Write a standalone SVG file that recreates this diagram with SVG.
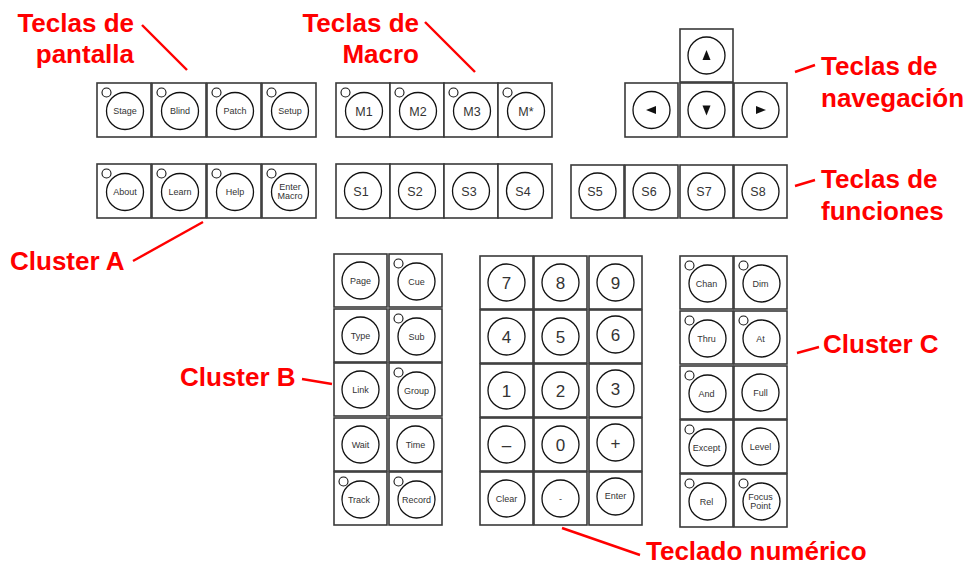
<svg xmlns="http://www.w3.org/2000/svg" width="969" height="566" viewBox="0 0 969 566">
<style>
.k rect{fill:#fff;stroke:#3a3a3a;stroke-width:1.6}
.k circle.b{fill:#fff;stroke:#111;stroke-width:1.3}
.k circle.l{fill:#fff;stroke:#111;stroke-width:1.1}
.k text{font-family:"Liberation Sans",Arial,sans-serif;font-size:9px;fill:#333;text-anchor:middle}
.k text.m{font-size:12.5px}
.k text.n{font-size:17px}
.k path{fill:#111}
.lbl{font-family:"Liberation Sans",Arial,sans-serif;font-weight:bold;font-size:26px;fill:#ff0000}
.ln{stroke:#ff0000;stroke-width:2.4;fill:none;stroke-linecap:butt}
</style>
<rect width="969" height="566" fill="#fff"/>

<!-- Screen keys -->
<g id="key-stage" class="k" transform="translate(97,83)"><rect width="54" height="54"/><circle class="b" cx="28" cy="28" r="18.5"/><circle class="l" cx="9.5" cy="9.5" r="4.5"/><text x="28" y="31">Stage</text></g>
<g id="key-blind" class="k" transform="translate(152,83)"><rect width="54" height="54"/><circle class="b" cx="28" cy="28" r="18.5"/><circle class="l" cx="9.5" cy="9.5" r="4.5"/><text x="28" y="31">Blind</text></g>
<g id="key-patch" class="k" transform="translate(207,83)"><rect width="54" height="54"/><circle class="b" cx="28" cy="28" r="18.5"/><circle class="l" cx="9.5" cy="9.5" r="4.5"/><text x="28" y="31">Patch</text></g>
<g id="key-setup" class="k" transform="translate(262,83)"><rect width="54" height="54"/><circle class="b" cx="28" cy="28" r="18.5"/><circle class="l" cx="9.5" cy="9.5" r="4.5"/><text x="28" y="31">Setup</text></g>

<!-- Cluster A -->
<g id="key-about" class="k" transform="translate(97,164)"><rect width="54" height="54"/><circle class="b" cx="28" cy="28" r="18.5"/><circle class="l" cx="9.5" cy="9.5" r="4.5"/><text x="28" y="31">About</text></g>
<g id="key-learn" class="k" transform="translate(152,164)"><rect width="54" height="54"/><circle class="b" cx="28" cy="28" r="18.5"/><circle class="l" cx="9.5" cy="9.5" r="4.5"/><text x="28" y="31">Learn</text></g>
<g id="key-help" class="k" transform="translate(207,164)"><rect width="54" height="54"/><circle class="b" cx="28" cy="28" r="18.5"/><circle class="l" cx="9.5" cy="9.5" r="4.5"/><text x="28" y="31">Help</text></g>
<g id="key-enter-macro" class="k" transform="translate(262,164)"><rect width="54" height="54"/><circle class="b" cx="28" cy="28" r="18.5"/><circle class="l" cx="9.5" cy="9.5" r="4.5"/><text x="28" y="26">Enter</text><text x="28" y="35">Macro</text></g>

<!-- Macro keys -->
<g id="key-m1" class="k" transform="translate(336,83)"><rect width="54" height="54"/><circle class="b" cx="28" cy="28" r="18.5"/><circle class="l" cx="9.5" cy="9.5" r="4.5"/><text class="m" x="28" y="32.5">M1</text></g>
<g id="key-m2" class="k" transform="translate(390,83)"><rect width="54" height="54"/><circle class="b" cx="28" cy="28" r="18.5"/><circle class="l" cx="9.5" cy="9.5" r="4.5"/><text class="m" x="28" y="32.5">M2</text></g>
<g id="key-m3" class="k" transform="translate(444,83)"><rect width="54" height="54"/><circle class="b" cx="28" cy="28" r="18.5"/><circle class="l" cx="9.5" cy="9.5" r="4.5"/><text class="m" x="28" y="32.5">M3</text></g>
<g id="key-mstar" class="k" transform="translate(498,83)"><rect width="54" height="54"/><circle class="b" cx="28" cy="28" r="18.5"/><circle class="l" cx="9.5" cy="9.5" r="4.5"/><text class="m" x="28" y="32.5">M*</text></g>

<!-- Function keys -->
<g id="key-s1" class="k" transform="translate(336,164)"><rect width="54" height="54"/><circle class="b" cx="27" cy="27" r="18.5"/><text class="m" x="25" y="31.5">S1</text></g>
<g id="key-s2" class="k" transform="translate(390,164)"><rect width="54" height="54"/><circle class="b" cx="27" cy="27" r="18.5"/><text class="m" x="25" y="31.5">S2</text></g>
<g id="key-s3" class="k" transform="translate(444,164)"><rect width="54" height="54"/><circle class="b" cx="27" cy="27" r="18.5"/><text class="m" x="25" y="31.5">S3</text></g>
<g id="key-s4" class="k" transform="translate(498,164)"><rect width="54" height="54"/><circle class="b" cx="27" cy="27" r="18.5"/><text class="m" x="25" y="31.5">S4</text></g>
<g id="key-s5" class="k" transform="translate(571,165)"><rect width="53" height="53"/><circle class="b" cx="26.5" cy="26.5" r="18.5"/><text class="m" x="24" y="31">S5</text></g>
<g id="key-s6" class="k" transform="translate(625,165)"><rect width="53" height="53"/><circle class="b" cx="26.5" cy="26.5" r="18.5"/><text class="m" x="24" y="31">S6</text></g>
<g id="key-s7" class="k" transform="translate(680,165)"><rect width="53" height="53"/><circle class="b" cx="26.5" cy="26.5" r="18.5"/><text class="m" x="24" y="31">S7</text></g>
<g id="key-s8" class="k" transform="translate(734,165)"><rect width="53" height="53"/><circle class="b" cx="26.5" cy="26.5" r="18.5"/><text class="m" x="24" y="31">S8</text></g>

<!-- Navigation keys -->
<g id="key-up" class="k" transform="translate(680,29)"><rect width="53" height="53"/><circle class="b" cx="26.5" cy="26.5" r="18.5"/><path d="M26.5 21 L30.5 31 L22.5 31 Z"/></g>
<g id="key-left" class="k" transform="translate(625,83)"><rect width="53" height="54"/><circle class="b" cx="26.5" cy="27" r="18.5"/><path d="M21 27 L31 23 L31 31 Z"/></g>
<g id="key-down" class="k" transform="translate(680,83)"><rect width="53" height="54"/><circle class="b" cx="26.5" cy="27" r="18.5"/><path d="M26.5 32.5 L30.5 22.5 L22.5 22.5 Z"/></g>
<g id="key-right" class="k" transform="translate(734,83)"><rect width="53" height="54"/><circle class="b" cx="26.5" cy="27" r="18.5"/><path d="M32 27 L22 23 L22 31 Z"/></g>

<!-- Cluster B -->
<g id="key-page" class="k" transform="translate(334,254)"><rect width="53" height="53"/><circle class="b" cx="26.5" cy="26.5" r="18.5"/><text x="26.5" y="29.5">Page</text></g>
<g id="key-cue" class="k" transform="translate(389,254)"><rect width="53" height="53"/><circle class="b" cx="27.5" cy="27.5" r="18.5"/><circle class="l" cx="9.5" cy="9.5" r="4.5"/><text x="27.5" y="30.5">Cue</text></g>
<g id="key-type" class="k" transform="translate(334,309)"><rect width="53" height="53"/><circle class="b" cx="26.5" cy="26.5" r="18.5"/><text x="26.5" y="29.5">Type</text></g>
<g id="key-sub" class="k" transform="translate(389,309)"><rect width="53" height="53"/><circle class="b" cx="27.5" cy="27.5" r="18.5"/><circle class="l" cx="9.5" cy="9.5" r="4.5"/><text x="27.5" y="30.5">Sub</text></g>
<g id="key-link" class="k" transform="translate(334,363)"><rect width="53" height="53"/><circle class="b" cx="26.5" cy="26.5" r="18.5"/><text x="26.5" y="29.5">Link</text></g>
<g id="key-group" class="k" transform="translate(389,363)"><rect width="53" height="53"/><circle class="b" cx="27.5" cy="27.5" r="18.5"/><circle class="l" cx="9.5" cy="9.5" r="4.5"/><text x="27.5" y="30.5">Group</text></g>
<g id="key-wait" class="k" transform="translate(334,418)"><rect width="53" height="53"/><circle class="b" cx="26.5" cy="26.5" r="18.5"/><text x="26.5" y="29.5">Wait</text></g>
<g id="key-time" class="k" transform="translate(389,418)"><rect width="53" height="53"/><circle class="b" cx="26.5" cy="26.5" r="18.5"/><text x="26.5" y="29.5">Time</text></g>
<g id="key-track" class="k" transform="translate(334,472)"><rect width="53" height="53"/><circle class="b" cx="26.5" cy="27.5" r="18.5"/><circle class="l" cx="9.5" cy="9.5" r="4.5"/><text x="25" y="30.5">Track</text></g>
<g id="key-record" class="k" transform="translate(389,472)"><rect width="53" height="53"/><circle class="b" cx="27.5" cy="27.5" r="18.5"/><circle class="l" cx="9.5" cy="9.5" r="4.5"/><text x="27.5" y="30.5">Record</text></g>

<!-- Numeric keypad -->
<g id="key-7" class="k" transform="translate(480,256)"><rect width="53" height="53"/><circle class="b" cx="26.5" cy="26.5" r="18.5"/><text class="n" x="26.5" y="32.5">7</text></g>
<g id="key-8" class="k" transform="translate(534,256)"><rect width="53" height="53"/><circle class="b" cx="26.5" cy="26.5" r="18.5"/><text class="n" x="26.5" y="32.5">8</text></g>
<g id="key-9" class="k" transform="translate(589,256)"><rect width="53" height="53"/><circle class="b" cx="26.5" cy="26.5" r="18.5"/><text class="n" x="26.5" y="32.5">9</text></g>
<g id="key-4" class="k" transform="translate(480,310)"><rect width="53" height="53"/><circle class="b" cx="26.5" cy="26.5" r="18.5"/><text class="n" x="26.5" y="32.5">4</text></g>
<g id="key-5" class="k" transform="translate(534,310)"><rect width="53" height="53"/><circle class="b" cx="26.5" cy="26.5" r="18.5"/><text class="n" x="26.5" y="32.5">5</text></g>
<g id="key-6" class="k" transform="translate(589,310)"><rect width="53" height="53"/><circle class="b" cx="26.5" cy="24.5" r="18.5"/><text class="n" x="26.5" y="30.5">6</text></g>
<g id="key-1" class="k" transform="translate(480,364)"><rect width="53" height="53"/><circle class="b" cx="26.5" cy="26.5" r="18.5"/><text class="n" x="26.5" y="32.5">1</text></g>
<g id="key-2" class="k" transform="translate(534,364)"><rect width="53" height="53"/><circle class="b" cx="26.5" cy="26.5" r="18.5"/><text class="n" x="26.5" y="32.5">2</text></g>
<g id="key-3" class="k" transform="translate(589,364)"><rect width="53" height="53"/><circle class="b" cx="26.5" cy="24.5" r="18.5"/><text class="n" x="26.5" y="30.5">3</text></g>
<g id="key-minus" class="k" transform="translate(480,418)"><rect width="53" height="53"/><circle class="b" cx="26.5" cy="26.5" r="18.5"/><text class="n" x="26.5" y="32.5">–</text></g>
<g id="key-0" class="k" transform="translate(534,418)"><rect width="53" height="53"/><circle class="b" cx="26.5" cy="26.5" r="18.5"/><text class="n" x="26.5" y="32.5">0</text></g>
<g id="key-plus" class="k" transform="translate(589,418)"><rect width="53" height="53"/><circle class="b" cx="26.5" cy="24.5" r="18.5"/><text class="n" x="26.5" y="30.5">+</text></g>
<g id="key-clear" class="k" transform="translate(480,472)"><rect width="53" height="53"/><circle class="b" cx="26.5" cy="26.5" r="18.5"/><text x="26.5" y="29.5">Clear</text></g>
<g id="key-dot" class="k" transform="translate(534,472)"><rect width="53" height="53"/><circle class="b" cx="26.5" cy="26.5" r="18.5"/><text x="26.5" y="29.5">-</text></g>
<g id="key-enter" class="k" transform="translate(589,472)"><rect width="53" height="53"/><circle class="b" cx="26.5" cy="24.5" r="18.5"/><text x="26.5" y="27">Enter</text></g>

<!-- Cluster C -->
<g id="key-chan" class="k" transform="translate(680,256)"><rect width="53" height="53"/><circle class="b" cx="27.5" cy="27.5" r="18.5"/><circle class="l" cx="9.5" cy="9.5" r="4.5"/><text x="26.5" y="30.5">Chan</text></g>
<g id="key-dim" class="k" transform="translate(734,256)"><rect width="53" height="53"/><circle class="b" cx="27.5" cy="27.5" r="18.5"/><circle class="l" cx="9.5" cy="9.5" r="4.5"/><text x="26.5" y="30.5">Dim</text></g>
<g id="key-thru" class="k" transform="translate(680,311)"><rect width="53" height="53"/><circle class="b" cx="27.5" cy="27.5" r="18.5"/><circle class="l" cx="9.5" cy="9.5" r="4.5"/><text x="26.5" y="30.5">Thru</text></g>
<g id="key-at" class="k" transform="translate(734,311)"><rect width="53" height="53"/><circle class="b" cx="27.5" cy="27.5" r="18.5"/><circle class="l" cx="9.5" cy="9.5" r="4.5"/><text x="26.5" y="30.5">At</text></g>
<g id="key-and" class="k" transform="translate(680,366)"><rect width="53" height="53"/><circle class="b" cx="27.5" cy="27.5" r="18.5"/><circle class="l" cx="9.5" cy="9.5" r="4.5"/><text x="26.5" y="30.5">And</text></g>
<g id="key-full" class="k" transform="translate(734,366)"><rect width="53" height="53"/><circle class="b" cx="26.5" cy="26.5" r="18.5"/><text x="26.5" y="29.5">Full</text></g>
<g id="key-except" class="k" transform="translate(680,420)"><rect width="53" height="53"/><circle class="b" cx="27.5" cy="27.5" r="18.5"/><circle class="l" cx="9.5" cy="9.5" r="4.5"/><text x="26.5" y="30.5">Except</text></g>
<g id="key-level" class="k" transform="translate(734,420)"><rect width="53" height="53"/><circle class="b" cx="26.5" cy="26.5" r="18.5"/><text x="26.5" y="29.5">Level</text></g>
<g id="key-rel" class="k" transform="translate(680,474)"><rect width="53" height="53"/><circle class="b" cx="27.5" cy="27.5" r="18.5"/><circle class="l" cx="9.5" cy="9.5" r="4.5"/><text x="26.5" y="30.5">Rel</text></g>
<g id="key-focus-point" class="k" transform="translate(734,474)"><rect width="53" height="53"/><circle class="b" cx="27.5" cy="27.5" r="18.5"/><circle class="l" cx="9.5" cy="9.5" r="4.5"/><text x="26.5" y="26">Focus</text><text x="26.5" y="35">Point</text></g>

<!-- Callout labels -->
<g id="label-pantalla"><text class="lbl" x="134" y="32" text-anchor="end">Teclas de</text><text class="lbl" x="134" y="63" text-anchor="end">pantalla</text></g>
<g id="label-macro"><text class="lbl" x="419" y="32" text-anchor="end">Teclas de</text><text class="lbl" x="419" y="63" text-anchor="end">Macro</text></g>
<g id="label-navegacion"><text class="lbl" x="821" y="75">Teclas de</text><text class="lbl" x="821" y="107">navegación</text></g>
<g id="label-funciones"><text class="lbl" x="821" y="188">Teclas de</text><text class="lbl" x="821" y="220">funciones</text></g>
<g id="label-cluster-a"><text class="lbl" x="10" y="270">Cluster A</text></g>
<g id="label-cluster-b"><text class="lbl" x="180" y="386">Cluster B</text></g>
<g id="label-cluster-c"><text class="lbl" x="823" y="353">Cluster C</text></g>
<g id="label-teclado"><text class="lbl" x="646" y="560">Teclado numérico</text></g>

<!-- Connectors -->
<g id="connectors">
<line class="ln" x1="142" y1="25" x2="187" y2="70"/>
<line class="ln" x1="425" y1="22" x2="475" y2="72"/>
<line class="ln" x1="795" y1="72" x2="815" y2="65"/>
<line class="ln" x1="795" y1="186" x2="815" y2="180"/>
<line class="ln" x1="133" y1="261" x2="203" y2="222"/>
<line class="ln" x1="302" y1="379" x2="332" y2="384"/>
<line class="ln" x1="797" y1="353" x2="819" y2="347"/>
<line class="ln" x1="562" y1="528" x2="640" y2="555"/>
</g>
</svg>
